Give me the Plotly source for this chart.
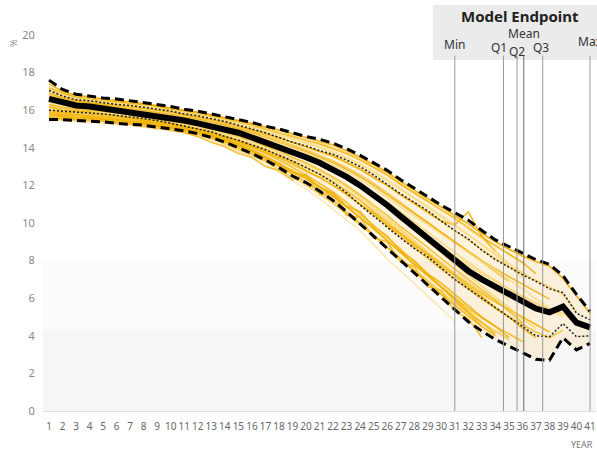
import plotly.graph_objects as go

years = list(range(1, 42))

mean_line = [16.6, 16.4, 16.25, 16.2, 16.1, 16.0, 15.9, 15.8, 15.7, 15.55,
             15.45, 15.3, 15.15, 15.0, 14.8, 14.55, 14.3, 14.05, 13.8, 13.5,
             13.2, 12.85, 12.45, 12.0, 11.5, 10.95, 10.35, 9.75, 9.2, 8.6,
             8.0, 7.45, 7.0, 6.6, 6.2, 5.85, 5.45, 5.25, 5.55, 4.7, 4.45]
upper_dash = [17.6, 17.1, 16.85, 16.75, 16.65, 16.6, 16.5, 16.4, 16.3, 16.2,
              16.05, 15.95, 15.8, 15.65, 15.5, 15.35, 15.15, 15.0, 14.8, 14.6,
              14.45, 14.25, 13.95, 13.6, 13.2, 12.8, 12.3, 11.85, 11.4, 10.95,
              10.55, 10.15, 9.6, 9.1, 8.75, 8.4, 8.05, 7.8, 7.2, 6.2, 5.3]
lower_dash = [15.5, 15.5, 15.45, 15.43, 15.38, 15.3, 15.25, 15.2, 15.1, 15.0,
              14.9, 14.75, 14.55, 14.3, 14.0, 13.7, 13.35, 12.95, 12.5, 12.15,
              11.7, 11.2, 10.6, 9.95, 9.3, 8.65, 8.0, 7.35, 6.7, 6.05,
              5.4, 4.75, 4.25, 3.8, 3.45, 3.1, 2.75, 2.7, 3.9, 3.25, 3.6]
upper_dot = [17.05, 16.75, 16.55, 16.5, 16.4, 16.3, 16.25, 16.15, 16.05, 15.95,
             15.8, 15.7, 15.55, 15.4, 15.2, 15.0, 14.8, 14.55, 14.3, 14.1,
             13.85, 13.65, 13.35, 13.0, 12.55, 12.05, 11.55, 11.1, 10.65, 10.1,
             9.6, 9.15, 8.55, 8.05, 7.65, 7.25, 6.9, 6.5, 6.3, 5.2, 4.85]
lower_dot = [16.0, 15.95, 15.9, 15.88, 15.8, 15.72, 15.65, 15.55, 15.45, 15.3,
             15.15, 15.0, 14.85, 14.6, 14.4, 14.15, 13.9, 13.6, 13.3, 12.95,
             12.6, 12.15, 11.6, 10.95, 10.35, 9.75, 9.2, 8.65, 8.2, 7.6,
             7.0, 6.5, 6.0, 5.5, 5.0, 4.5, 4.0, 3.95, 4.65, 3.95, 4.0]

run01 = [17.4, 17.0, 16.8, 16.7, 16.6, 16.5, 16.45, 16.35, 16.25, 16.1, 16.0, 15.9, 15.75, 15.6, 15.45, 15.3, 15.1, 14.95, 14.75, 14.55, 14.35, 14.15, 13.85, 13.5, 13.1, 12.7, 12.2, 11.75, 11.3, 10.85, 10.4, 9.95, 9.45, 9.0, 8.6, 8.25, 7.95, 7.7, 7.05, 6.1, 5.2]
run02 = [16.9, 16.7, 16.5, 16.45, 16.35, 16.25, 16.2, 16.1, 16.0, 15.9, 15.75, 15.6, 15.5, 15.3, 15.15, 14.95, 14.75, 14.5, 14.3, 14.05, 13.8, 13.6, 13.25, 12.9, 12.45, 12.0, 11.5, 11.05, 10.6, 10.1, 9.6, 9.1, 8.6, 8.1, 7.7, 7.3, 6.95, 6.6, 6.2, 5.3]
run03 = [16.3, 16.2, 16.1, 16.05, 16.0, 15.9, 15.8, 15.75, 15.6, 15.5, 15.4, 15.25, 15.1, 14.9, 14.7, 14.5, 14.25, 14.0, 13.75, 13.45, 13.15, 12.8, 12.4, 11.95, 11.45, 10.9, 10.35, 9.8, 9.3, 8.75, 8.25, 7.75, 7.3, 6.9, 6.5, 6.1, 5.75, 5.45, 5.0]
run04 = [16.0, 15.9, 15.85, 15.8, 15.7, 15.65, 15.55, 15.45, 15.35, 15.25, 15.1, 15.0, 14.8, 14.6, 14.4, 14.15, 13.9, 13.6, 13.3, 12.95, 12.6, 12.2, 11.7, 11.2, 10.6, 10.0, 9.45, 8.9, 8.35, 7.8, 7.25, 6.75, 6.25, 5.8, 5.4, 5.0, 4.6, 4.2]
run05 = [17.2, 16.9, 16.7, 16.6, 16.5, 16.45, 16.35, 16.3, 16.2, 16.05, 15.95, 15.85, 15.7, 15.55, 15.4, 15.2, 15.0, 14.8, 14.6, 14.4, 14.2, 13.95, 13.7, 13.35, 12.95, 12.55, 12.05, 11.6, 11.15, 10.7, 10.25, 9.75, 9.25, 8.8, 8.35, 7.9, 7.3]
run06 = [16.6, 16.45, 16.3, 16.2, 16.15, 16.05, 15.95, 15.85, 15.75, 15.6, 15.5, 15.35, 15.2, 15.05, 14.85, 14.6, 14.35, 14.1, 13.8, 13.5, 13.15, 12.8, 12.4, 11.9, 11.35, 10.8, 10.2, 9.6, 9.0, 8.4, 7.8, 7.2, 6.6, 6.05, 5.5, 4.9]
run07 = [15.6, 15.55, 15.5, 15.5, 15.45, 15.35, 15.3, 15.25, 15.15, 15.05, 14.95, 14.8, 14.6, 14.35, 14.1, 13.8, 13.45, 13.1, 12.7, 12.35, 11.9, 11.4, 10.85, 10.3, 9.7, 9.05, 8.45, 7.8, 7.2, 6.6, 6.0, 5.45, 4.95, 4.5, 4.1, 3.7]
run08 = [15.8, 15.7, 15.6, 15.6, 15.5, 15.45, 15.4, 15.3, 15.2, 15.1, 15.0, 14.85, 14.7, 14.45, 14.2, 13.9, 13.55, 13.2, 12.7, 12.5, 11.9, 11.6, 10.9, 10.6, 9.8, 9.3, 8.5, 8.0, 7.3, 6.8, 6.2, 5.6, 5.0, 4.5, 3.9]
run09 = [16.4, 16.3, 16.2, 16.1, 16.05, 15.95, 15.85, 15.75, 15.65, 15.55, 15.4, 15.3, 15.15, 14.95, 14.75, 14.5, 14.3, 14.05, 13.75, 13.45, 13.1, 12.75, 12.35, 11.9, 11.4, 10.85, 10.3, 9.75, 9.2, 8.6, 8.05, 7.5, 6.95, 6.45, 5.9]
run10 = [16.8, 16.6, 16.45, 16.35, 16.3, 16.2, 16.1, 16.0, 15.9, 15.8, 15.65, 15.55, 15.4, 15.25, 15.05, 14.85, 14.65, 14.4, 14.15, 13.9, 13.6, 13.3, 12.95, 12.55, 12.1, 11.6, 11.1, 10.55, 10.05, 9.5, 9.0, 8.45, 7.95, 7.4, 6.9]
run11 = [15.7, 15.65, 15.6, 15.55, 15.5, 15.4, 15.35, 15.25, 15.15, 15.05, 14.9, 14.75, 14.55, 14.3, 14.0, 13.7, 13.35, 13.0, 12.6, 12.15, 11.7, 11.2, 10.6, 10.0, 9.35, 8.7, 8.05, 7.45, 6.8, 6.2, 5.6, 5.05, 4.5, 4.0]
run12 = [16.2, 16.1, 16.0, 15.95, 15.9, 15.8, 15.7, 15.6, 15.5, 15.4, 15.25, 15.1, 14.95, 14.75, 14.55, 14.3, 14.05, 13.75, 13.45, 13.1, 12.75, 12.35, 11.9, 11.4, 10.85, 10.25, 9.65, 9.05, 8.45, 7.85, 7.25, 6.65, 6.05, 5.5]
run13 = [15.9, 15.8, 15.75, 15.7, 15.6, 15.55, 15.45, 15.4, 15.3, 15.2, 15.05, 14.9, 14.75, 14.5, 14.25, 14.0, 13.7, 13.35, 12.95, 12.55, 12.1, 11.65, 11.1, 10.5, 9.9, 9.25, 8.6, 7.95, 7.3, 6.6, 5.9, 5.2, 4.5]
run14 = [15.5, 15.45, 15.4, 15.35, 15.3, 15.25, 15.2, 15.1, 15.0, 14.9, 14.8, 14.6, 14.4, 14.1, 13.8, 13.45, 13.1, 12.7, 12.25, 11.8, 11.3, 10.75, 10.2, 9.6, 8.85, 8.1, 7.45, 6.8, 6.15, 5.45, 4.75]
run15 = [15.6, 15.5, 15.5, 15.45, 15.4, 15.3, 15.25, 15.15, 15.05, 14.95, 14.8, 14.6, 14.3, 14.05, 13.7, 13.5, 13.0, 12.8, 12.3, 12.6, 11.5, 11.6, 10.4, 10.3, 9.2, 9.0, 7.9, 7.7, 6.6, 6.4, 5.3, 4.9, 3.9]
run16 = [16.1, 16.0, 15.9, 15.85, 15.8, 15.7, 15.6, 15.55, 15.45, 15.35, 15.2, 15.05, 14.9, 14.7, 14.45, 14.2, 13.95, 13.65, 13.3, 12.95, 12.6, 12.2, 11.75, 11.25, 10.7, 10.15, 9.55, 9.0, 8.45, 7.9, 7.35, 6.85, 6.35, 5.85, 5.4, 4.9, 4.4]
run17 = [16.7, 16.5, 16.4, 16.3, 16.25, 16.15, 16.05, 15.95, 15.85, 15.75, 15.6, 15.5, 15.35, 15.2, 15.0, 14.8, 14.55, 14.3, 14.05, 13.8, 13.5, 13.2, 12.85, 12.45, 12.0, 11.5, 11.0, 10.5, 10.0, 9.5, 9.0, 8.5, 8.0, 7.55, 7.15, 6.75, 6.35, 5.95]
run18 = [17.0, 16.8, 16.6, 16.55, 16.45, 16.4, 16.3, 16.2, 16.1, 16.0, 15.85, 15.75, 15.6, 15.45, 15.3, 15.1, 14.9, 14.7, 14.5, 14.3, 14.05, 13.8, 13.5, 13.15, 12.75, 12.3, 11.85, 11.35, 10.9, 10.4, 9.9, 9.4, 8.85, 8.3, 7.7, 7.1]
run19 = [15.9, 15.85, 15.75, 15.7, 15.65, 15.55, 15.5, 15.4, 15.3, 15.2, 15.05, 14.95, 14.75, 14.55, 14.3, 14.05, 13.75, 13.45, 13.1, 12.75, 12.4, 12.0, 11.5, 11.0, 10.45, 9.85, 9.25, 8.7, 8.1, 7.55, 7.0, 6.45, 5.95, 5.45, 5.0, 4.6, 4.2, 3.9, 4.3]
run20 = [16.5, 16.35, 16.2, 16.15, 16.05, 16.0, 15.9, 15.8, 15.7, 15.6, 15.45, 15.35, 15.2, 15.0, 14.8, 14.55, 14.35, 14.1, 13.85, 13.55, 13.25, 12.9, 12.5, 12.05, 11.6, 11.1, 10.6, 10.05, 9.5, 8.95, 8.4, 7.9, 7.4, 6.95, 6.5, 6.1, 5.7, 5.4, 5.2, 4.6]
run21 = [16.9, 16.65, 16.5, 16.4, 16.35, 16.3, 16.2, 16.1, 16.0, 15.9, 15.75, 15.65, 15.5, 15.35, 15.15, 14.95, 14.75, 14.55, 14.3, 14.05, 13.8, 13.55, 13.2, 12.85, 12.4, 12.0, 11.5, 11.05, 10.55, 10.1, 9.9, 10.6, 9.3, 8.5]
run22 = [15.65, 15.6, 15.55, 15.5, 15.45, 15.4, 15.3, 15.2, 15.1, 15.0, 14.85, 14.7, 14.5, 14.2, 13.9, 13.6, 13.25, 12.85, 12.45, 12.0, 11.55, 11.05, 10.5, 9.9, 9.3, 8.7, 8.1, 7.5, 6.9, 6.3, 5.75, 5.2, 4.7, 4.25, 3.8]
run23 = [16.2, 16.0, 15.95, 15.9, 15.8, 15.7, 15.6, 15.5, 15.4, 15.3, 15.15, 15.0, 14.8, 14.6, 14.35, 14.1, 13.8, 13.5, 13.2, 12.8, 12.45, 12.0, 11.55, 11.0, 10.5, 9.9, 9.4, 8.8, 8.3, 7.7, 7.2, 6.6, 6.1, 5.5, 5.0, 4.4, 3.9]
run24 = [16.75, 16.55, 16.4, 16.3, 16.2, 16.1, 16.0, 15.9, 15.8, 15.7, 15.55, 15.45, 15.3, 15.1, 14.9, 14.7, 14.5, 14.25, 14.0, 13.7, 13.4, 13.1, 12.7, 12.3, 11.85, 11.35, 10.85, 10.35, 9.9, 9.4, 8.9, 8.45, 7.95, 7.5, 7.0, 6.5, 5.95, 5.5]
run25 = [16.3, 16.15, 16.05, 16.0, 15.95, 15.85, 15.75, 15.65, 15.55, 15.45, 15.3, 15.2, 15.0, 14.85, 14.6, 14.4, 14.1, 13.85, 13.5, 13.2, 12.85, 12.45, 12.0, 11.5, 10.95, 10.4, 9.8, 9.25, 8.7, 8.1, 7.55, 7.0, 6.45, 5.9, 5.3, 4.7]
run26 = [17.1, 16.85, 16.6, 16.5, 16.45, 16.35, 16.3, 16.2, 16.1, 16.0, 15.9, 15.8, 15.65, 15.5, 15.35, 15.2, 15.0, 14.8, 14.65, 14.4, 14.25, 14.0, 13.75, 13.4, 13.05, 12.6, 12.15, 11.7, 11.2, 10.7, 10.3, 9.7, 9.2, 8.5, 7.8]
run27 = [15.8, 15.75, 15.7, 15.65, 15.55, 15.5, 15.4, 15.35, 15.25, 15.15, 15.0, 14.85, 14.65, 14.4, 14.15, 13.85, 13.5, 13.15, 12.8, 12.4, 11.95, 11.45, 10.9, 10.3, 9.7, 9.05, 8.45, 7.8, 7.2, 6.55, 5.95, 5.3, 4.7, 4.1]
run28 = [16.95, 16.75, 16.6, 16.5, 16.4, 16.35, 16.25, 16.15, 16.05, 15.95, 15.85, 15.7, 15.55, 15.4, 15.2, 15.05, 14.85, 14.65, 14.45, 14.2, 14.0, 13.7, 13.4, 13.05, 12.65, 12.2, 11.75, 11.3, 10.8, 10.3, 9.85, 9.35, 8.85, 8.35, 7.85, 7.4, 6.9]

runs = [run01, run02, run03, run04, run05, run06, run07, run08, run09, run10, run11,
        run12, run13, run14, run15, run16, run17, run18, run19, run20, run21, run22,
        run23, run24, run25, run26, run27, run28]

endpoint_labels = ["Min", "Q1", "Q2", "Mean", "Q3", "Max"]
endpoint_years = [31.0, 34.6, 35.6, 36.1, 37.5, 41.0]
y_ticks = list(range(0, 21, 2))

# styles
run_colors = ["rgba(238,172,0,0.9)", "rgba(246,196,50,0.7)", "rgba(250,212,110,0.7)",
              "rgba(240,178,0,0.85)", "rgba(238,172,0,0.85)", "rgba(248,205,80,0.7)",
              "rgba(240,180,10,0.85)", "rgba(238,175,0,0.85)", "rgba(250,218,130,0.7)",
              "rgba(244,190,40,0.75)", "rgba(240,178,0,0.85)", "rgba(248,208,95,0.7)",
              "rgba(240,182,15,0.8)", "rgba(252,226,165,0.8)", "rgba(240,180,20,0.8)",
              "rgba(248,208,95,0.7)", "rgba(238,172,0,0.8)", "rgba(250,215,120,0.7)",
              "rgba(242,186,30,0.8)", "rgba(248,208,95,0.7)", "rgba(238,172,0,0.85)",
              "rgba(244,192,45,0.75)", "rgba(240,178,0,0.85)", "rgba(250,215,120,0.7)",
              "rgba(242,184,20,0.8)", "rgba(248,205,80,0.7)", "rgba(240,178,0,0.8)",
              "rgba(250,218,130,0.7)"]
label_py = [0.9735, 0.968, 0.955, 1.005, 0.968, 0.9815]   # paper positions of labels
label_shift = [0, -4, 0, 0, -2, 0]
line_colors = ["#9a9a9a", "#9a9a9a", "#9a9a9a", "#6a6a6a", "#9a9a9a", "#9a9a9a"]
FONT = "Noto Sans"

fig = go.Figure()

# soft envelope fill
fig.add_trace(go.Scatter(x=years, y=lower_dash, mode="lines", line=dict(width=0),
                         hoverinfo="skip", showlegend=False))
fig.add_trace(go.Scatter(x=years, y=upper_dash, mode="lines", line=dict(width=0),
                         fill="tonexty", fillcolor="rgba(252,222,160,0.35)",
                         hoverinfo="skip", showlegend=False))

for run, col in zip(runs, run_colors):
    fig.add_trace(go.Scatter(x=years[:len(run)], y=run, mode="lines",
                             line=dict(color=col, width=1.6), showlegend=False))

for s in (upper_dot, lower_dot):
    fig.add_trace(go.Scatter(x=years, y=s, mode="lines",
                             line=dict(color="#222222", width=1.5, dash="2px,2px"),
                             showlegend=False))
for s in (upper_dash, lower_dash):
    fig.add_trace(go.Scatter(x=years, y=s, mode="lines",
                             line=dict(color="#000000", width=3, dash="9px,5px"),
                             showlegend=False))
fig.add_trace(go.Scatter(x=years, y=mean_line, mode="lines",
                         line=dict(color="#000000", width=6), showlegend=False))

shapes = [
    dict(type="rect", xref="paper", yref="y", x0=0, x1=1, y0=4.27, y1=8,
         fillcolor="#fbfbfb", line=dict(width=0), layer="below"),
    dict(type="rect", xref="paper", yref="y", x0=0, x1=1, y0=0, y1=4.27,
         fillcolor="#f6f6f6", line=dict(width=0), layer="below"),
    dict(type="rect", xref="paper", yref="paper", x0=0.705, x1=1.01, y0=0.9335, y1=1.08,
         fillcolor="#ebebeb", line=dict(width=0), layer="below"),
]
for xv, c in zip(endpoint_years, line_colors):
    shapes.append(dict(type="line", xref="x", yref="y", x0=xv, x1=xv, y0=0, y1=18.9,
                       line=dict(color=c, width=1), layer="above"))

annotations = [
    dict(text="<b>Model Endpoint</b>", xref="paper", yref="paper", x=0.862, y=1.05,
         showarrow=False, font=dict(family=FONT, size=15, color="#222222"),
         xanchor="center", yanchor="middle"),
    dict(text="%", xref="paper", yref="paper", x=-0.054, y=0.977, showarrow=False,
         xanchor="center", yanchor="middle",
         textangle=90, font=dict(family=FONT, size=9, color="#888888")),
    dict(text="YEAR", xref="paper", yref="paper", x=0.998, y=-0.09, xanchor="right",
         yanchor="middle",
         showarrow=False, font=dict(family=FONT, size=9, color="#777777")),
]
for lab, xv, py, sh in zip(endpoint_labels, endpoint_years, label_py, label_shift):
    annotations.append(dict(text=lab, x=xv, y=py, xref="x", yref="paper", showarrow=False,
                            xanchor="center", yanchor="middle", xshift=sh,
                            font=dict(family=FONT, size=12, color="#333333")))

fig.update_layout(
    width=597, height=451,
    margin=dict(l=43, r=1, t=35, b=40),
    paper_bgcolor="white", plot_bgcolor="white",
    font=dict(family=FONT, color="#777777"),
    shapes=shapes, annotations=annotations,
    xaxis=dict(range=[0.556, 41.44], tickmode="array", tickvals=years,
               ticktext=[str(v) for v in years], showgrid=False, zeroline=False,
               showline=True, linecolor="#dddddd", linewidth=1, automargin=False,
               tickangle=0, ticks="outside", ticklen=6, tickcolor="rgba(0,0,0,0)",
               tickfont=dict(family=FONT, size=10, color="#666666")),
    yaxis=dict(range=[0, 20], tickmode="array", tickvals=y_ticks, showgrid=False,
               zeroline=False, showline=False, automargin=False,
               ticks="outside", ticklen=5, tickcolor="rgba(0,0,0,0)",
               tickfont=dict(family=FONT, size=11, color="#888888")),
)

fig.write_html("out.html", config={"displayModeBar": False},
               post_script="document.body.style.margin='0px';")
